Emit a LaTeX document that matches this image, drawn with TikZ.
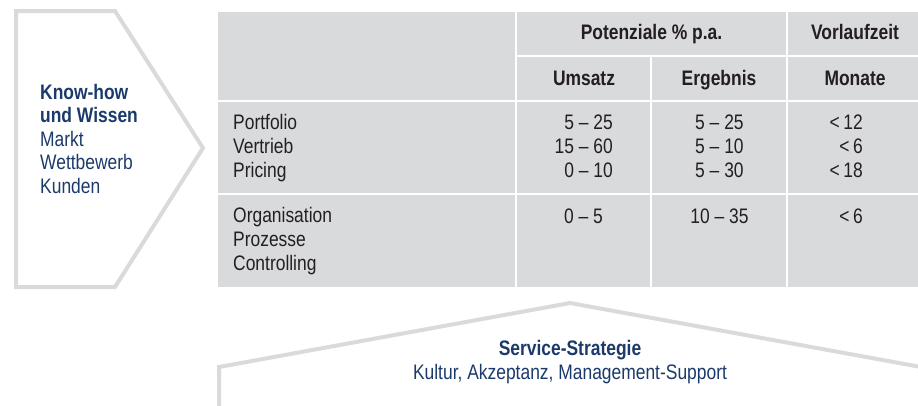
\documentclass[tikz,border=0pt]{standalone}
\usepackage{fontspec}
\setmainfont[FakeStretch=0.83]{Liberation Sans}
\usepackage{tikz}
\usetikzlibrary{positioning}
\definecolor{cellgray}{RGB}{217,218,220}
\definecolor{navy}{RGB}{27,58,107}
\definecolor{ink}{RGB}{35,31,32}
\tikzset{
    cell/.style={fill=cellgray, inner sep=0pt, outer sep=0pt, anchor=north west},
    outline/.style={draw=cellgray, line width=4pt, line join=miter},
    body/.style={font=\fontsize{21}{24}\selectfont, text=ink, inner sep=0pt},
    head/.style={body, font=\fontsize{21}{24}\selectfont\bfseries},
    navytext/.style={font=\fontsize{21}{23.5}\selectfont, text=navy, inner sep=0pt}
}

\begin{document}
\begin{tikzpicture}[x=1pt, y=-1pt]
	\useasboundingbox (0,0) rectangle (918,405);
	\clip (0,0) rectangle (918,405);
	% arrow and roof
	\draw[outline] (16,11) -- (115,11) -- (203,148) -- (115,287) -- (16,287) -- cycle;
	\draw[outline] (219,412) -- (219,367) -- (570,303) -- (921,367) -- (921,412);
	\node[navytext, anchor=north west, align=left] (knowhow) at (40,83.7)
		{\textbf{Know-how}\\\textbf{und Wissen}\\Markt\\Wettbewerb\\Kunden};
	\node[navytext, anchor=base] (service) at (570,355) {\textbf{Service-Strategie}};
	\node[navytext, anchor=base] (kultur) at (570,379) {Kultur, Akzeptanz, Management-Support};
	% table cells
	\node[cell, minimum width=297pt, minimum height=88pt] (corner) at (218,12) {};
	\node[cell, minimum width=269pt, minimum height=43pt] (pot) at (517,12) {};
	\node[cell, minimum width=130pt, minimum height=43pt] (vor) at (788,12) {};
	\node[cell, minimum width=133pt, minimum height=43pt] (ums) at (517,57) {};
	\node[cell, minimum width=134pt, minimum height=43pt] (erg) at (652,57) {};
	\node[cell, minimum width=130pt, minimum height=43pt] (mon) at (788,57) {};
	\node[cell, minimum width=297pt, minimum height=91pt] (rowa) at (218,102) {};
	\node[cell, minimum width=133pt, minimum height=91pt] (rowaums) at (517,102) {};
	\node[cell, minimum width=134pt, minimum height=91pt] (rowaerg) at (652,102) {};
	\node[cell, minimum width=130pt, minimum height=91pt] (rowamon) at (788,102) {};
	\node[cell, minimum width=297pt, minimum height=92pt] (rowb) at (218,195) {};
	\node[cell, minimum width=133pt, minimum height=92pt] (rowbums) at (517,195) {};
	\node[cell, minimum width=134pt, minimum height=92pt] (rowberg) at (652,195) {};
	\node[cell, minimum width=130pt, minimum height=92pt] (rowbmon) at (788,195) {};
	% headings
	\node[head, anchor=base] (pottext) at (651.5,39) {Potenziale \% p.a.};
	\node[head, anchor=base] (vortext) at (855,39) {Vorlaufzeit};
	\node[head, anchor=base] (umstext) at (584,85.5) {Umsatz};
	\node[head, anchor=base] (ergtext) at (719,85.5) {Ergebnis};
	\node[head, anchor=base] (montext) at (855,85.5) {Monate};
	% first block
	\node[body, anchor=north west, align=left] (rowatext) at (233,114.3) {Portfolio\\Vertrieb\\Pricing};
	\node[body, anchor=north east, align=right] (rowaumstext) at (613,114.3) {5 – 25\\15 – 60\\0 – 10};
	\node[body, anchor=north west, align=left] (rowaergtext) at (695,114.3) {5 – 25\\5 – 10\\5 – 30};
	\node[body, anchor=north east, align=right] (rowamontext) at (863,114.3) {<\,12\\<\,6\\<\,18};
	% second block
	\node[body, anchor=north west, align=left] (rowbtext) at (233,207.5) {Organisation\\Prozesse\\Controlling};
	\node[body, anchor=base] (rowbumstext) at (583.5,223) {0 – 5};
	\node[body, anchor=base] (rowbergtext) at (719.5,223) {10 – 35};
	\node[body, anchor=base east] (rowbmontext) at (863,223) {<\,6};
\end{tikzpicture}
\end{document}
